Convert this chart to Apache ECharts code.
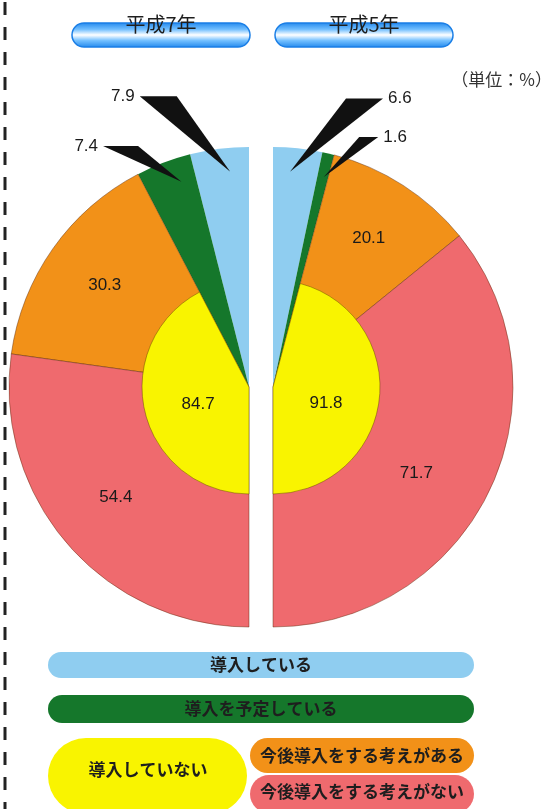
<!DOCTYPE html>
<html><head><meta charset="utf-8">
<script src="https://cdn.jsdelivr.net/npm/echarts@6/dist/echarts.min.js"></script>
<style>html,body{margin:0;padding:0;background:#fff}#c{width:553px;height:809px}</style>
</head><body><div id="c"></div>
<script>
// ---- data ----
const YEARS = ['平成7年', '平成5年'];
const OUTER_CATEGORIES = ['導入している', '導入を予定している', '今後導入をする考えがある', '今後導入をする考えがない'];
const INNER_CATEGORIES = ['導入している', '導入を予定している', '導入していない'];
const H7_OUTER = [7.9, 7.4, 30.3, 54.4];
const H7_INNER = [7.9, 7.4, 84.7];
const H5_OUTER = [6.6, 1.6, 20.1, 71.7];
const H5_INNER = [6.6, 1.6, 91.8];
const UNIT_LABEL = '（単位：%）';
const LEGEND_LABELS = ['導入している', '導入を予定している', '導入していない', '今後導入をする考えがある', '今後導入をする考えがない'];

// ---- style / layout ----
const COL = { in: '#8fcdf0', plan: '#15772b', yes: '#f29118', no: '#ef6a6e', not: '#f9f400' };
const OUTER_COLORS = [COL.in, COL.plan, COL.yes, COL.no];
const INNER_COLORS = [COL.in, COL.plan, COL.not];
const CY = 387, R0 = 107, R = 240;
const CX = [249, 273];
const SIDE = [-1, 1];           // left half counter-clockwise, right half clockwise
const NUM_FONT = { fontFamily: 'Liberation Sans, Arial, sans-serif', fontSize: 17, color: '#1a1a1a' };
const JP_FONT = '"Noto Sans CJK JP", sans-serif';
const CALLOUT = [
  [{ len: 53, len2: 73, base: 37, tip: 0.35 }, { len: 18, len2: 54, base: 35, tip: 0.3 }],
  [{ len: 50, len2: 80, base: 37, tip: 0.38 }, { len: 17, len2: 46, base: 19, tip: 0.6 }]
];
const RING_LABEL_OFFSET = [[null, null, [0, 0], [0, -6]], [null, null, [0, 0], [-16, 10]]];
const INNER_LABEL_OFFSET = [[4, 4], [-3, 9]];

const sum = a => a.reduce((s, v) => s + v, 0);
function spans(values) {
  const t = sum(values); let acc = 0;
  return values.map(v => { const s = acc / t * 180; acc += v; return [s, acc / t * 180]; });
}
function pt(k, theta, r) {
  const a = theta * Math.PI / 180;
  return [CX[k] + SIDE[k] * r * Math.sin(a), CY - r * Math.cos(a)];
}
const blank = { color: 'rgba(0,0,0,0)', borderWidth: 0 };
function filler(total) {
  return { name: '', value: total, itemStyle: blank, label: { show: false }, labelLine: { show: false } };
}
function base(k, radius, data) {
  return {
    type: 'pie', center: [CX[k], CY], radius: radius, startAngle: 90, clockwise: SIDE[k] > 0,
    avoidLabelOverlap: false, silent: true, animation: false, emphasis: { disabled: true },
    label: Object.assign({ show: true, formatter: '{c}' }, NUM_FONT),
    labelLine: { show: false }, data: data
  };
}
function fullSeries(k, values) {
  const data = values.map((v, i) => {
    const it = { name: OUTER_CATEGORIES[i], value: v, itemStyle: { color: OUTER_COLORS[i], borderWidth: 0 } };
    if (i < 2) {
      const c = CALLOUT[k][i];
      it.label = { show: true, position: 'outside', distanceToLabelLine: 5 };
      it.labelLine = { show: false, length: c.len, length2: c.len2 };
    } else {
      it.itemStyle.borderColor = 'rgba(90,40,10,0.55)';
      it.itemStyle.borderWidth = 0.8;
      it.label = { show: false };
    }
    return it;
  });
  data.push(filler(sum(values)));
  return base(k, [0, R], data);
}
function innerSeries(k, values) {
  const data = values.map((v, i) => {
    if (i < 2) return { name: INNER_CATEGORIES[i], value: v, itemStyle: blank, label: { show: false } };
    return { name: INNER_CATEGORIES[i], value: v,
      itemStyle: { color: INNER_COLORS[i], borderColor: 'rgba(90,60,0,0.55)', borderWidth: 0.8 },
      label: { show: true, position: 'inside', offset: INNER_LABEL_OFFSET[k] } };
  });
  data.push(filler(sum(values)));
  return base(k, [0, R0], data);
}
function ringLabelSeries(k, values) {
  const data = values.map((v, i) => ({
    name: OUTER_CATEGORIES[i], value: v, itemStyle: blank,
    label: i < 2 ? { show: false } : { show: true, position: 'inside', offset: RING_LABEL_OFFSET[k][i] }
  }));
  data.push(filler(sum(values)));
  return base(k, [R0, R], data);
}
function callouts(k, values) {
  const sp = spans(values);
  return [0, 1].map(i => {
    const c = CALLOUT[k][i], s = sp[i][0], e = sp[i][1], mid = (s + e) / 2;
    const p2 = pt(k, mid, R + c.len);
    const A = [p2[0] + SIDE[k] * c.len2, p2[1]];
    const B = [A[0] - SIDE[k] * c.base, A[1]];
    const T = pt(k, s + (e - s) * c.tip, R * 0.9);
    return { type: 'polygon', z: 100, silent: true, shape: { points: [A, B, T] }, style: { fill: '#111' } };
  });
}
function pill(x, y, w, h, fill, z) {
  return { type: 'rect', z: z || 10, silent: true, shape: { x: x, y: y, width: w, height: h, r: h / 2 }, style: { fill: fill } };
}
function txt(x, y, text, size, weight, z) {
  return { type: 'text', z: z || 20, silent: true, x: x, y: y,
    style: { text: text, fontSize: size, fontWeight: weight || 'normal', fontFamily: JP_FONT, fill: '#1e1e1e', align: 'center', verticalAlign: 'middle' } };
}
const titleGrad = new echarts.graphic.LinearGradient(0, 0, 0, 1, [
  { offset: 0, color: '#1f86ec' }, { offset: 0.28, color: '#72bfff' }, { offset: 0.5, color: '#ffffff' },
  { offset: 0.72, color: '#72bfff' }, { offset: 1, color: '#1f86ec' }
]);
function titlePill(x, label) {
  return [
    { type: 'rect', z: 10, silent: true, shape: { x: x, y: 23, width: 178, height: 24, r: 12 }, style: { fill: titleGrad, stroke: '#1a7ee6', lineWidth: 1.5 } },
    txt(x + 89, 24, label, 20, 'normal', 20)
  ];
}

const graphics = [
  { type: 'line', silent: true, shape: { x1: 5, y1: 2, x2: 5, y2: 809 }, style: { stroke: '#222', lineWidth: 3, lineDash: [13, 12] } },
  ...titlePill(72, YEARS[0]), ...titlePill(275, YEARS[1]),
  { type: 'text', silent: true, x: 552, y: 80, style: { text: UNIT_LABEL, fontSize: 17, fontFamily: JP_FONT, fill: '#333', align: 'right', verticalAlign: 'middle' } },
  ...callouts(0, H7_OUTER), ...callouts(1, H5_OUTER),
  pill(48, 652, 426, 26, COL.in), txt(261, 665, LEGEND_LABELS[0], 17, 'bold'),
  pill(48, 695, 426, 28, COL.plan), txt(261, 709, LEGEND_LABELS[1], 17, 'bold'),
  pill(48, 738, 199, 76, COL.not), txt(148, 770, LEGEND_LABELS[2], 17, 'bold'),
  pill(250, 738, 224, 35, COL.yes), txt(362, 756, LEGEND_LABELS[3], 17, 'bold'),
  pill(250, 775, 224, 38, COL.no), txt(362, 792, LEGEND_LABELS[4], 17, 'bold')
];

const chart = echarts.init(document.getElementById('c'), null, { renderer: 'canvas' });
chart.setOption({
  backgroundColor: '#fff',
  animation: false,
  series: [
    fullSeries(0, H7_OUTER), innerSeries(0, H7_INNER), ringLabelSeries(0, H7_OUTER),
    fullSeries(1, H5_OUTER), innerSeries(1, H5_INNER), ringLabelSeries(1, H5_OUTER)
  ],
  graphic: graphics
});
</script></body></html>
